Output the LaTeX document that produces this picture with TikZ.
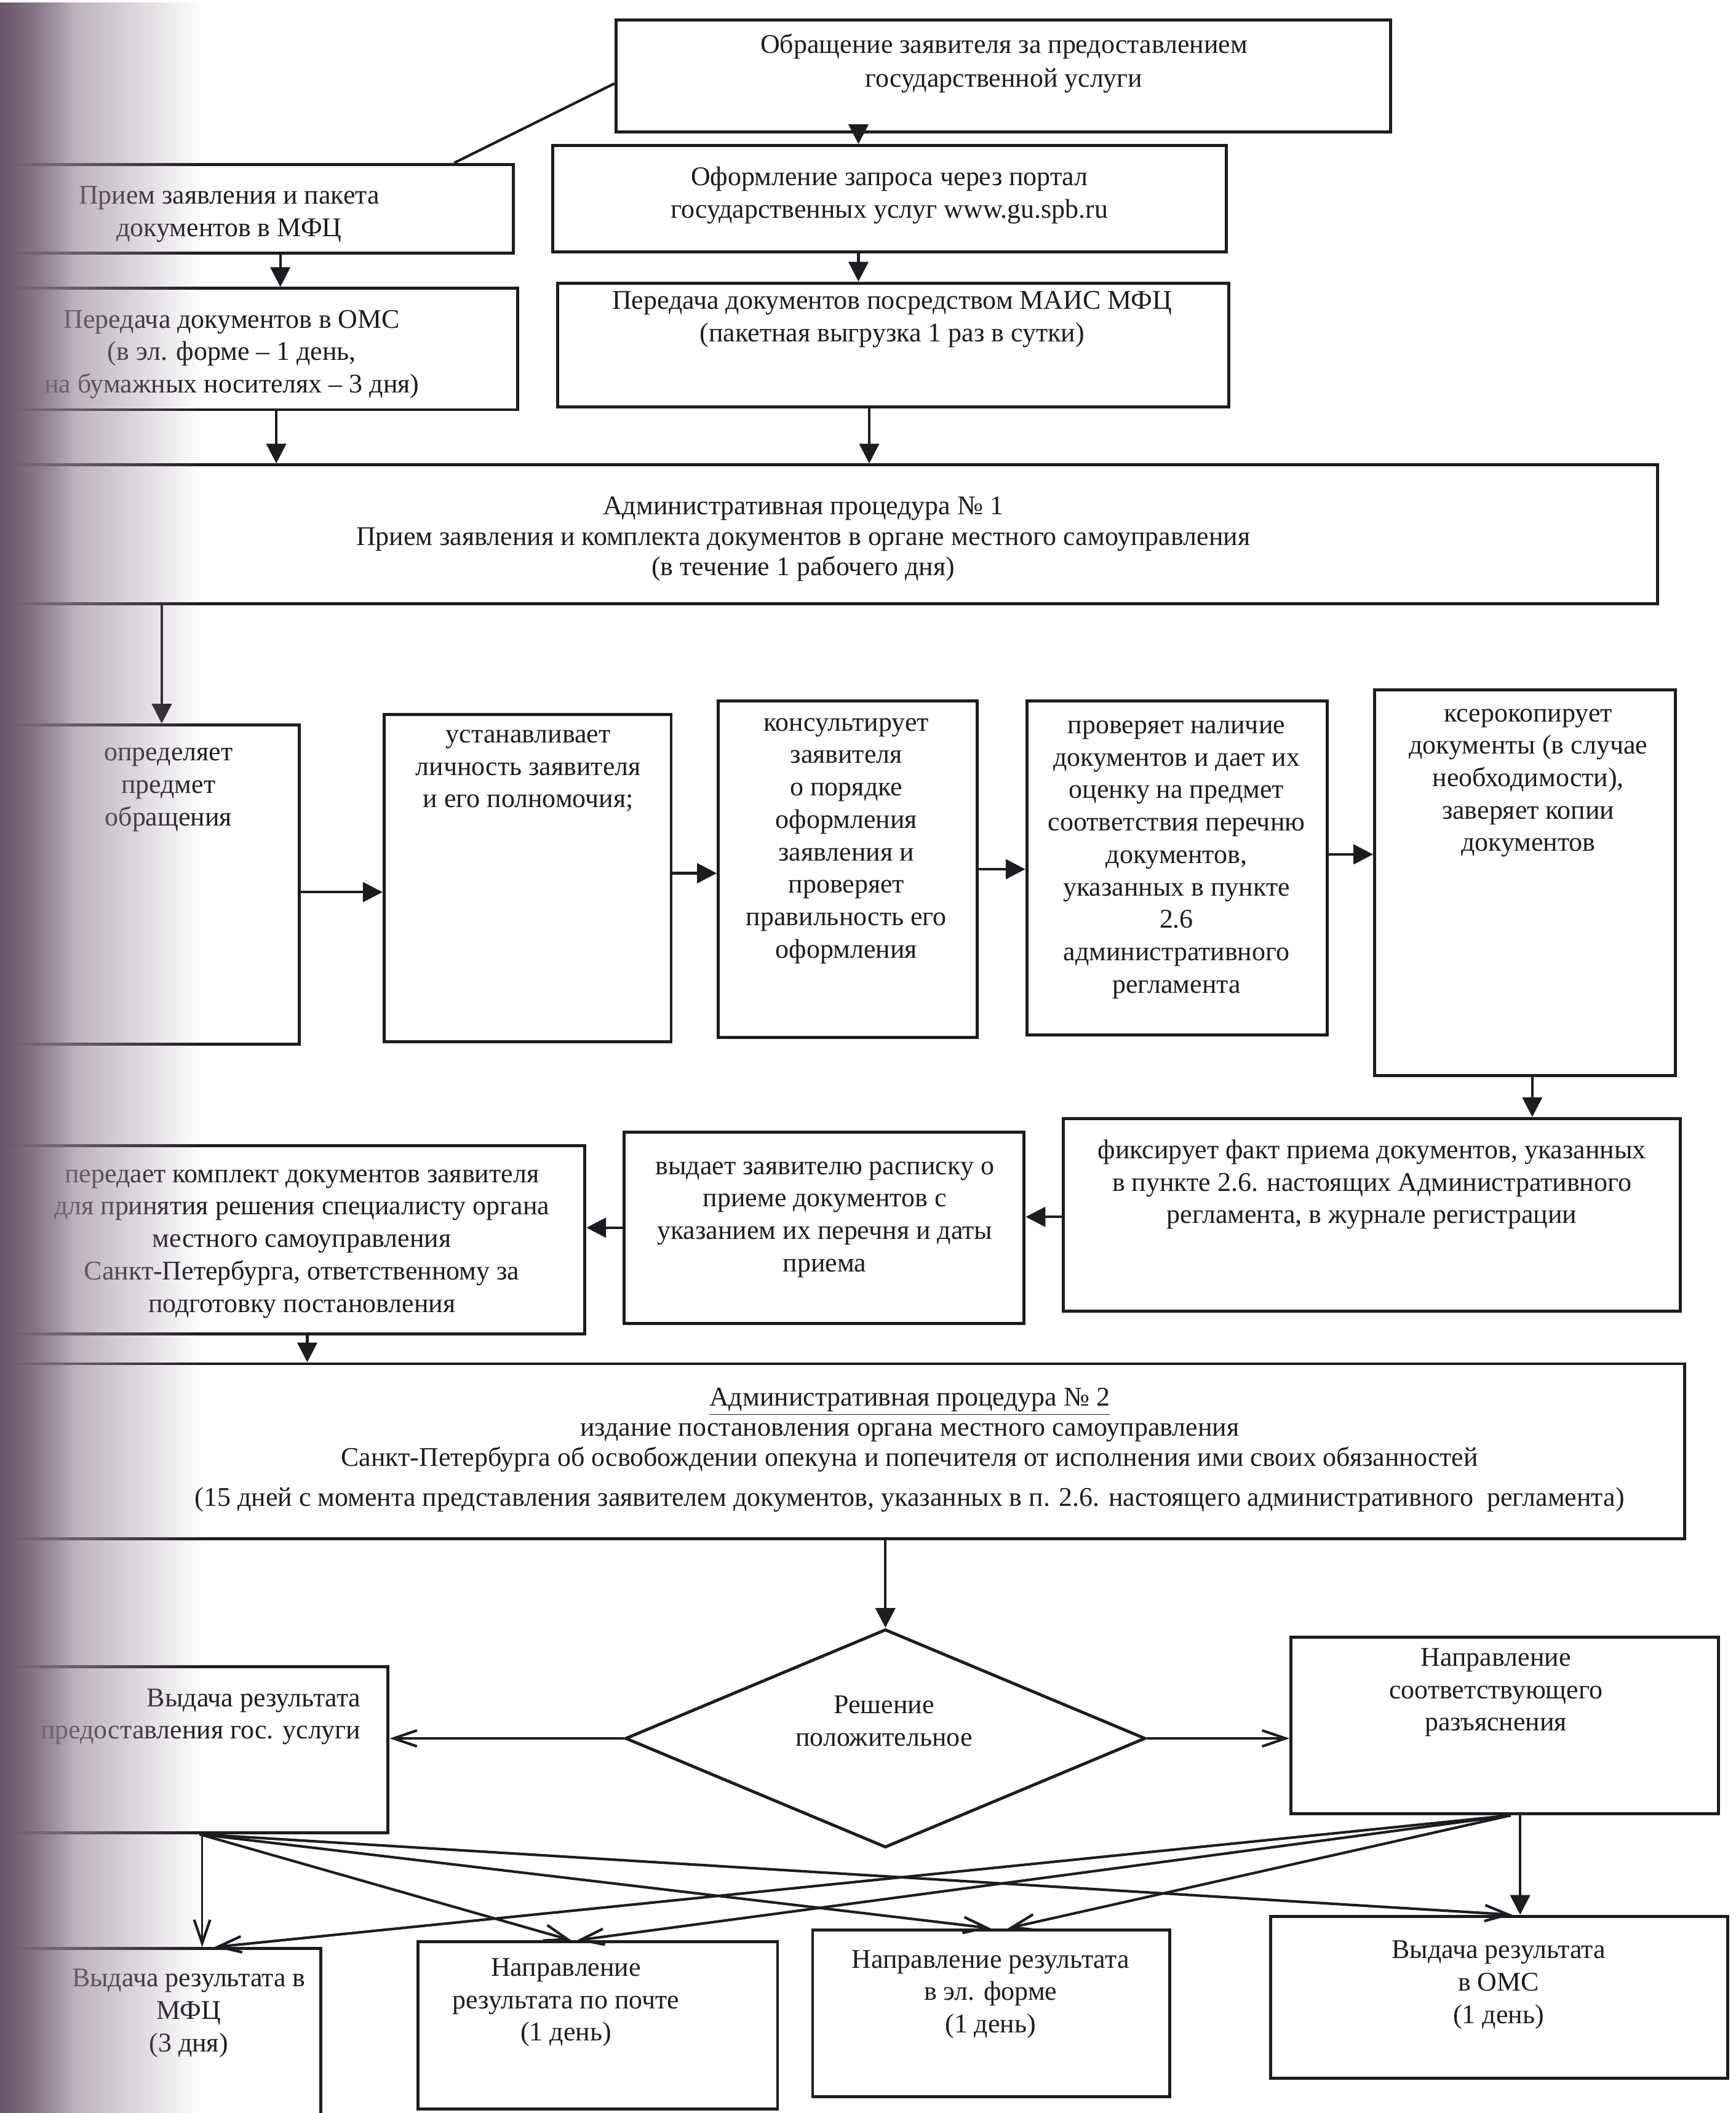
\documentclass[tikz,border=0pt]{standalone}
\usepackage{fontspec}
\setmainfont{Liberation Serif}
\usetikzlibrary{arrows.meta,fit,shapes.geometric,fadings}
\tikzfading[name=gutterfade, left color=transparent!0, right color=transparent!100]
\definecolor{ink}{RGB}{30,27,33}
\definecolor{gutterA}{RGB}{150,134,150}
\definecolor{gutterB}{RGB}{105,88,105}
\begin{document}
\begin{tikzpicture}[x=0.02191cm, y=-0.02191cm,
  box/.style={draw=ink, line width=1.4pt, inner sep=0pt, fit={#1}},
  txt/.style={inner sep=0pt, align=center, text=ink, font=\fontsize{12.5pt}{15pt}\selectfont},
  fa/.style={draw=ink, line width=1.2pt, -{Triangle[length=0.32cm,width=0.32cm]}},
  ob/.style={draw=ink, line width=1.2pt, -{Straight Barb[length=0.38cm,width=0.26cm,line width=1.2pt]}},
  pl/.style={draw=ink, line width=1.2pt}]
\fill[white] (0,0) rectangle (1288,1568);
\useasboundingbox (0,0) rectangle (1288,1568);

% ---------- top part ----------
\node[box={(457,15) (1032,98)}] (A) {};
\node[txt, font=\fontsize{12.5pt}{15.6pt}\selectfont] (At) at (745,47) {Обращение заявителя за предоставлением\\государственной услуги};

\node[box={(410,108) (910,187)}] (B) {};
\node[txt] (Bt) at (660,145) {Оформление запроса через портал\\государственных услуг www.gu.spb.ru};

\node[box={(-60,122) (381,188)}] (M) {};
\node[txt] (Mt) at (170,159) {Прием заявления и пакета\\документов в МФЦ};

\node[box={(-60,214) (384,304)}] (O) {};
\node[txt] (Ot) at (172,263) {Передача документов в ОМС\\(в эл. форме – 1 день,\\на бумажных носителях – 3 дня)};

\node[box={(414,210) (912,302)}] (C) {};
\node[txt] (Ct) at (662,237) {Передача документов посредством МАИС МФЦ\\(пакетная выгрузка 1 раз в сутки)};

\node[box={(-60,345) (1230,448)}] (P1) {};
\node[txt, font=\fontsize{12.5pt}{14pt}\selectfont] (P1t) at (596,400) {Административная процедура № 1\\Прием заявления и комплекта документов в органе местного самоуправления\\(в течение 1 рабочего дня)};

\draw[pl] (A.west |- 0,62) -- (M.north -| 337,0);
\draw[fa] (A.south -| 637,0) -- (B.north -| 637,0);
\draw[fa] (B.south -| 637,0) -- (C.north -| 637,0);
\draw[fa] (M.south -| 208,0) -- (O.north -| 208,0);
\draw[fa] (O.south -| 205,0) -- (P1.north -| 205,0);
\draw[fa] (C.south -| 645,0) -- (P1.north -| 645,0);

% ---------- row of steps ----------
\node[box={(-60,538) (222,775)}] (D1) {};
\node[txt] (D1t) at (125,586) {определяет\\предмет\\обращения};

\node[box={(285,530) (498,773)}] (D2) {};
\node[txt] (D2t) at (392,572) {устанавливает\\личность заявителя\\и его полномочия;};

\node[box={(533,520) (725,770)}] (D3) {};
\node[txt] (D3t) at (628,624) {консультирует\\заявителя\\о порядке\\оформления\\заявления и\\проверяет\\правильность его\\оформления};

\node[box={(762,520) (985,768)}] (D4) {};
\node[txt] (D4t) at (873,638) {проверяет наличие\\документов и дает их\\оценку на предмет\\соответствия перечню\\документов,\\указанных в пункте\\2.6\\административного\\регламента};

\node[box={(1020,512) (1243,798)}] (D5) {};
\node[txt] (D5t) at (1134,581) {ксерокопирует\\документы (в случае\\необходимости),\\заверяет копии\\документов};

\draw[fa] (P1.south -| 120,0) -- (D1.north -| 120,0);
\draw[fa] (D1.east |- 0,662) -- (D2.west |- 0,662);
\draw[fa] (D2.east |- 0,648) -- (D3.west |- 0,648);
\draw[fa] (D3.east |- 0,645) -- (D4.west |- 0,645);
\draw[fa] (D4.east |- 0,634) -- (D5.west |- 0,634);

% ---------- second row ----------
\node[box={(789,830) (1247,973)}] (E1) {};
\node[txt] (E1t) at (1018,879) {фиксирует факт приема документов, указанных\\в пункте 2.6. настоящих Административного\\регламента, в журнале регистрации};

\node[box={(463,840) (760,982)}] (E2) {};
\node[txt] (E2t) at (612,905) {выдает заявителю расписку о\\приеме документов с\\указанием их перечня и даты\\приема};

\node[box={(-60,850) (434,990)}] (E3) {};
\node[txt] (E3t) at (224,923) {передает комплект документов заявителя\\для принятия решения специалисту органа\\местного самоуправления\\Санкт-Петербурга, ответственному за\\подготовку постановления};

\draw[fa] (D5.south -| 1137,0) -- (E1.north -| 1137,0);
\draw[fa] (E1.west |- 0,903) -- (E2.east |- 0,903);
\draw[fa] (E2.west |- 0,911) -- (E3.east |- 0,911);

% ---------- procedure 2 ----------
\node[box={(-60,1012) (1250,1142)}] (P2) {};
\node[txt, font=\fontsize{12.5pt}{14pt}\selectfont] (P2t) at (675,1076) {\underline{Административная процедура № 2}\\издание постановления органа местного самоуправления\\Санкт-Петербурга об освобождении опекуна и попечителя от исполнения ими своих обязанностей\\[4.5pt](15 дней с момента представления заявителем документов, указанных в п. 2.6. настоящего административного\ \ регламента)};

\draw[fa] (E3.south -| 228,0) -- (P2.north -| 228,0);

% ---------- decision ----------
\node[draw=ink, line width=1.4pt, diamond, inner sep=0pt, minimum width={386*0.02191cm}, minimum height={162*0.02191cm}] (R) at (657,1290) {};
\node[txt] (Rt) at (656,1277) {Решение\\положительное};

\draw[fa] (P2.south -| 657,0) -- (R.north);

\node[box={(-60,1237) (288,1360)}] (F1) {};
\node[txt, align=right, anchor=east] (F1t) at (268,1274) {Выдача результата\\предоставления гос. услуги};

\node[box={(958,1215) (1275,1346)}] (F3) {};
\node[txt] (F3t) at (1110,1256) {Направление\\соответствующего\\разъяснения};

\draw[ob] (R.west) -- (F1.east |- R.west);
\draw[ob] (R.east) -- (F3.west |- R.east);

% ---------- results ----------
\node[box={(-60,1446) (238,1600)}] (F2) {};
\node[txt] (F2t) at (140,1494) {Выдача результата в\\МФЦ\\(3 дня)};

\node[box={(310,1441) (577,1565)}] (G1) {};
\node[txt] (G1t) at (420,1486) {Направление\\результата по почте\\(1 день)};

\node[box={(603,1432) (868,1556)}] (G2) {};
\node[txt] (G2t) at (735,1480) {Направление результата\\в эл. форме\\(1 день)};

\node[box={(943,1422) (1282,1542)}] (G3) {};
\node[txt] (G3t) at (1112,1473) {Выдача результата\\в ОМС\\(1 день)};

\draw[ob, line width=0.7pt] (F1.south -| 150,0) -- (F2.north -| 150,0);
\draw[ob] (F1.south -| 148,0) -- (G1.north -| 424,0);
\draw[ob] (F1.south -| 148,0) -- (G2.north -| 735,0);
\draw[ob] (F1.south -| 148,0) -- (G3.north -| 1122,0);

\draw[ob] (F3.south -| 1121,0) -- (F2.north -| 159,0);
\draw[ob] (F3.south -| 1121,0) -- (G1.north -| 428,0);
\draw[ob] (F3.south -| 1121,0) -- (G2.north -| 748,0);
\draw[fa] (F3.south -| 1128,0) -- (G3.north -| 1128,0);

% ---------- page gutter shadow ----------
\fill[gutterA, path fading=gutterfade] (0,0) rectangle (150,1568);
\fill[gutterB, path fading=gutterfade] (0,0) rectangle (55,1568);
\end{tikzpicture}
\end{document}
